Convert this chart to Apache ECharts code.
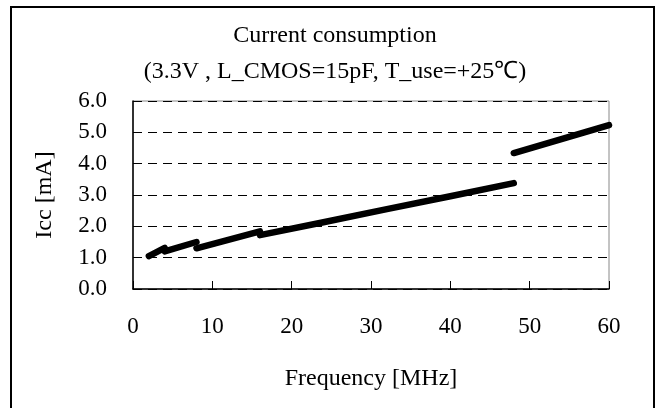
<!DOCTYPE html>
<html>
<head>
<meta charset="utf-8">
<script src="https://cdn.jsdelivr.net/npm/echarts@6/dist/echarts.min.js"></script>
<style>html,body{margin:0;padding:0;background:#fff}#c{width:656px;height:408px}</style>
</head>
<body>
<div id="c"></div>
<script>
var titleText = 'Current consumption';
var subtitleText = '(3.3V , L_CMOS=15pF, T_use=+25\u2103)';
var xName = 'Frequency [MHz]';
var yName = 'Icc [mA]';
// Segments (current jumps down at divider switch points)
var seg1Freq = [2, 4];
var seg1Icc = [1.05, 1.31];
var seg2Freq = [4, 8];
var seg2Icc = [1.2, 1.5];
var seg3Freq = [8, 16];
var seg3Icc = [1.3, 1.84];
var seg4Freq = [16, 24, 32, 40, 48];
var seg4Icc = [1.72, 2.13, 2.55, 2.96, 3.38];
var seg5Freq = [48, 60];
var seg5Icc = [4.34, 5.23];

var segs = [[seg1Freq, seg1Icc], [seg2Freq, seg2Icc], [seg3Freq, seg3Icc], [seg4Freq, seg4Icc], [seg5Freq, seg5Icc]];
var FONT = '"Liberation Serif", "Times New Roman", serif';
var series = segs.map(function (s) {
  return {
    type: 'line',
    data: s[0].map(function (f, i) { return [f, s[1][i]]; }),
    showSymbol: false,
    symbol: 'none',
    lineStyle: { color: '#000', width: 6.5, cap: 'round', join: 'round' },
    z: 5,
    animation: false
  };
});

var chart = echarts.init(document.getElementById('c'), null, { renderer: 'canvas' });
chart.setOption({
  animation: false,
  backgroundColor: '#fff',
  graphic: [{
    type: 'rect',
    shape: { x: 11, y: 7, width: 643, height: 420 },
    style: { fill: 'none', stroke: '#000', lineWidth: 2 },
    silent: true
  }, {
    type: 'text', x: 335, y: 36, silent: true,
    style: { text: titleText, fill: '#000', font: '24px ' + FONT, textAlign: 'center', textVerticalAlign: 'middle' }
  }, {
    type: 'text', x: 335, y: 72, silent: true,
    style: { text: subtitleText, fill: '#000', font: '24px ' + FONT, textAlign: 'center', textVerticalAlign: 'middle' }
  }],
  grid: { left: 133, right: 47, top: 101, bottom: 119, show: true, borderColor: '#888', borderWidth: 1 },
  xAxis: {
    type: 'value',
    min: 0, max: 60, interval: 10,
    name: xName,
    nameLocation: 'middle',
    nameGap: 78,
    nameTextStyle: { fontFamily: FONT, fontSize: 24, color: '#000' },
    axisLine: { show: true, lineStyle: { color: '#000', width: 1.5 } },
    axisTick: { show: true, inside: true, length: 8, lineStyle: { color: '#000' } },
    axisLabel: { fontFamily: FONT, fontSize: 23, color: '#000', margin: 26 },
    splitLine: { show: false }
  },
  yAxis: {
    type: 'value',
    min: 0, max: 6, interval: 1,
    name: yName,
    nameLocation: 'middle',
    nameGap: 76,
    nameTextStyle: { fontFamily: FONT, fontSize: 24, color: '#000' },
    axisLine: { show: true, lineStyle: { color: '#000', width: 1.5 } },
    axisTick: { show: false },
    axisLabel: { fontFamily: FONT, fontSize: 23, color: '#000', margin: 26,
      formatter: function (v) { return v.toFixed(1); } },
    splitLine: { show: true, lineStyle: { color: '#000', type: [9, 6], width: 1 } }
  },
  series: series
});
</script>
</body>
</html>
